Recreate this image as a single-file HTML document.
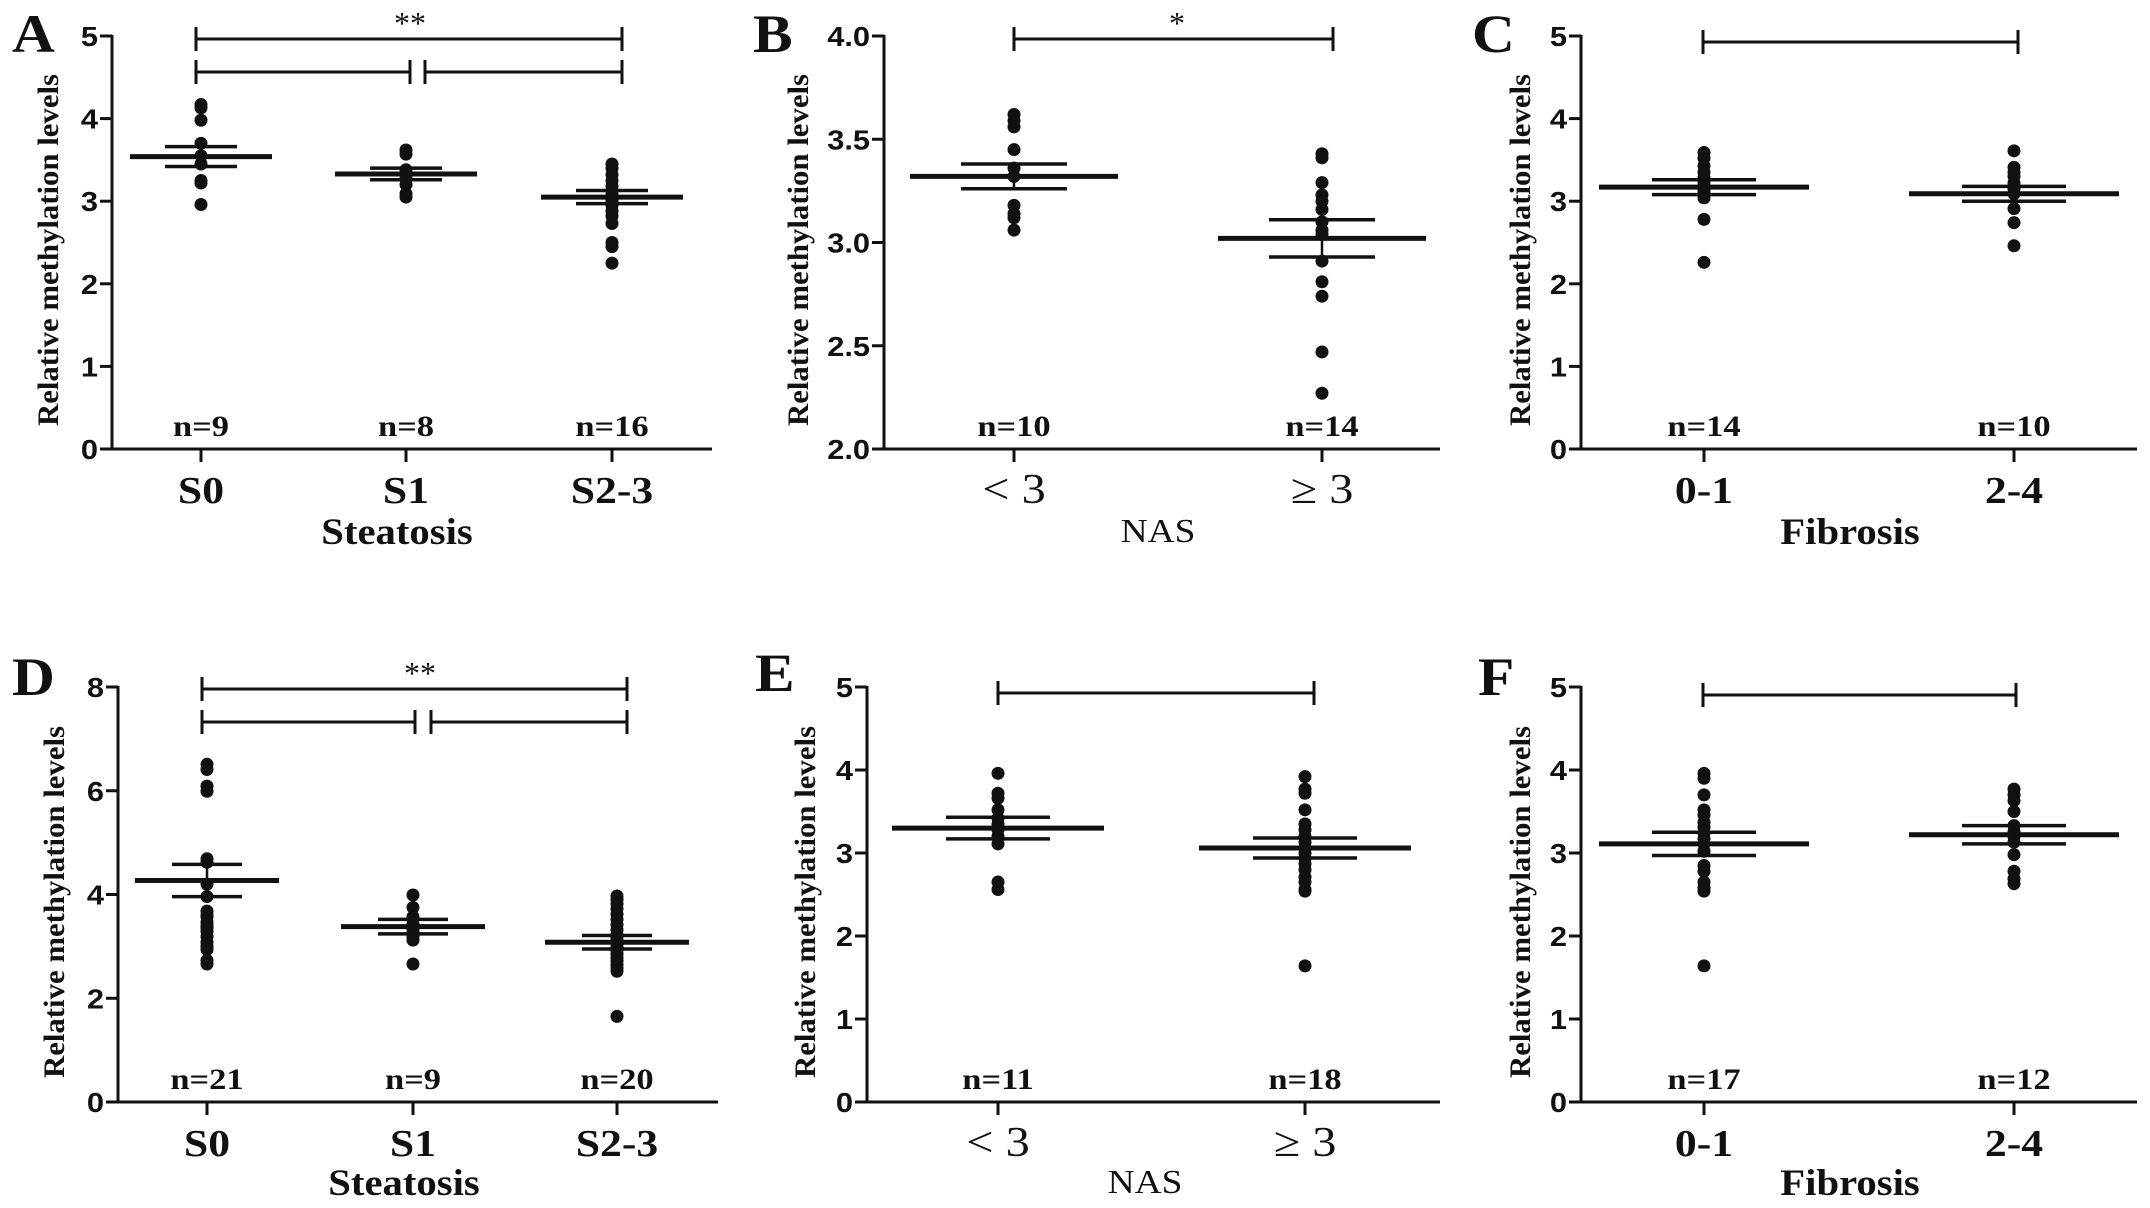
<!DOCTYPE html>
<html><head><meta charset="utf-8">
<style>
html,body{margin:0;padding:0;background:#fff;}
svg{display:block;}
.tick{font-family:"Liberation Sans",Arial,sans-serif;font-weight:bold;fill:#111;}
.ser{font-family:"Liberation Serif","Times New Roman",serif;fill:#111;}
</style></head>
<body>
<svg id="fig" width="2150" height="1208" viewBox="0 0 2150 1208" xmlns="http://www.w3.org/2000/svg"></svg>
<script>
// ---- Panel A data ----
const aCats = ["S0","S1","S2-3"];
const aN = ["n=9","n=8","n=16"];
const aS0 = [4.17,4.13,3.98,3.7,3.55,3.45,3.25,3.22,2.96];
const aS1 = [3.62,3.57,3.38,3.32,3.27,3.2,3.09,3.05];
const aS23 = [3.45,3.40,3.32,3.25,3.18,3.12,3.08,3.03,3.0,2.95,2.88,2.82,2.73,2.5,2.45,2.25];
const aMean = [3.54,3.33,3.05];
const aSem = [0.12,0.07,0.08];
const aTicks = ["0","1","2","3","4","5"];
// ---- Panel B data ----
const bCats = ["< 3","\u2265 3"];
const bN = ["n=10","n=14"];
const bLow = [3.62,3.59,3.56,3.45,3.36,3.32,3.18,3.14,3.12,3.06];
const bHigh = [3.43,3.41,3.29,3.23,3.2,3.16,3.1,3.06,3.04,2.91,2.81,2.74,2.47,2.27];
const bMean = [3.32,3.02];
const bSem = [0.06,0.09];
const bTicks = ["2.0","2.5","3.0","3.5","4.0"];
// ---- Panel C data ----
const cCats = ["0-1","2-4"];
const cN = ["n=14","n=10"];
const cLow = [3.59,3.52,3.43,3.35,3.28,3.24,3.2,3.17,3.13,3.11,3.09,3.04,2.78,2.26];
const cHigh = [3.61,3.41,3.35,3.3,3.22,3.15,3.09,2.91,2.74,2.46];
const cMean = [3.17,3.09];
const cSem = [0.09,0.09];
const cTicks = ["0","1","2","3","4","5"];
// ---- Panel D data ----
const dCats = ["S0","S1","S2-3"];
const dN = ["n=21","n=9","n=20"];
const dS0 = [6.51,6.41,6.09,5.99,4.69,4.62,4.2,3.96,3.68,3.6,3.57,3.47,3.4,3.36,3.29,3.19,3.08,3.0,2.94,2.73,2.66];
const dS1 = [3.99,3.75,3.57,3.43,3.35,3.29,3.19,3.12,2.66];
const dS23 = [3.97,3.9,3.82,3.72,3.62,3.52,3.42,3.32,3.22,3.15,3.08,3.0,2.92,2.85,2.78,2.72,2.65,2.58,2.52,1.65];
const dMean = [4.27,3.38,3.08];
const dSem = [0.31,0.14,0.13];
const dTicks = ["0","2","4","6","8"];
// ---- Panel E data ----
const eCats = ["< 3","\u2265 3"];
const eN = ["n=11","n=18"];
const eLow = [3.96,3.72,3.66,3.52,3.42,3.35,3.28,3.2,3.11,2.65,2.56];
const eHigh = [3.92,3.77,3.72,3.52,3.35,3.28,3.2,3.13,3.06,3.0,2.93,2.87,2.8,2.71,2.65,2.56,2.54,1.64];
const eMean = [3.30,3.06];
const eSem = [0.13,0.12];
const eTicks = ["0","1","2","3","4","5"];
// ---- Panel F data ----
const fCats = ["0-1","2-4"];
const fN = ["n=17","n=12"];
const fLow = [3.96,3.9,3.7,3.52,3.46,3.37,3.31,3.24,3.17,3.11,3.02,2.85,2.78,2.65,2.58,2.54,1.64];
const fHigh = [3.77,3.70,3.63,3.50,3.33,3.26,3.2,3.13,2.98,2.78,2.69,2.63];
const fMean = [3.11,3.22];
const fSem = [0.14,0.11];
const fTicks = ["0","1","2","3","4","5"];

const NS = "http://www.w3.org/2000/svg";
const svg = document.getElementById('fig');
function mk(tag, attrs, parent){
  const e = document.createElementNS(NS, tag);
  for (const k in attrs) e.setAttribute(k, attrs[k]);
  (parent||svg).appendChild(e);
  return e;
}
function line(g,x1,y1,x2,y2,w){ return mk('line',{x1:x1,y1:y1,x2:x2,y2:y2,stroke:'#111','stroke-width':w},g); }
function txt(g,s,x,y,cls,size,anchor,weight){
  const t = mk('text',{x:x,y:y,'class':cls,'font-size':size,'text-anchor':anchor||'middle','font-weight':weight||'bold'},g);
  t.textContent = s; return t;
}
// horizontally stretched text (reference glyphs are wider than tall)
function wtxt(g,s,x,y,cls,size,anchor,weight,sx){
  const t = mk('text',{x:0,y:0,'class':cls,'font-size':size,'text-anchor':anchor||'middle','font-weight':weight||'bold',
    transform:'translate('+x+','+y+') scale('+sx+',1)'},g);
  t.textContent = s; return t;
}

function panel(p){
  const g = mk('g',{});
  
  
  const ymin = p.ymin, ymax = p.ymax;
  const yS = v => p.y0 + (v - ymin) / (ymax - ymin) * (p.yTop - p.y0);
  const L = wtxt(g, p.letter, p.lx, p.ly, 'ser', 54, 'start', 'bold', 1.1);
  
  
  const ya = line(g, p.ax, p.yTop-1, p.ax, p.y0+1.5, 3);
  
  
  const xa = line(g, p.ax-12, p.y0, p.xEnd, p.y0, 3);
  
  
  const nT = p.ticks.length;
  p.ticks.forEach((lab, i) => {
    const v = ymin + (ymax - ymin) * i / (nT - 1);
    const y = yS(v);
    line(g, p.ax-12, y, p.ax, y, 3);
    const t = wtxt(g, lab, p.ax-14, y+10, 'tick', 28, 'end', 'bold', 1.1);
    
    
  });
  const yt = mk('text',{x:0,y:0,'class':'ser','font-size':30,'font-weight':'bold','text-anchor':'middle',
    transform:'translate('+p.ytx+','+p.tyc+') rotate(-90)', textLength:352, lengthAdjust:'spacingAndGlyphs'}, g);
  yt.textContent = 'Relative methylation levels';
  
  
  p.cats.forEach((c, i) => {
    const x = p.cx[i];
    line(g, x, p.y0, x, p.y0+13, 3);
    const cl = wtxt(g, c, x, p.y0+54, 'ser', p.catSize, 'middle', p.catWeight, 1.15);
    
    
    const nl = wtxt(g, p.n[i], x, p.y0-13, 'ser', 30, 'middle', 'bold', 1.15);
    
    
    p.series[i].forEach(v => {
      const d = mk('circle',{cx:x, cy:yS(v), r:6.5, fill:'#111'}, g);
      
      
    });
    const m = line(g, x-p.mh, yS(p.mean[i]), x+p.mh, yS(p.mean[i]), 5);
    
    
    const s1 = line(g, x-p.sh, yS(p.mean[i]+p.sem[i]), x+p.sh, yS(p.mean[i]+p.sem[i]), 3.5);
    
    
    const s2 = line(g, x-p.sh, yS(p.mean[i]-p.sem[i]), x+p.sh, yS(p.mean[i]-p.sem[i]), 3.5);
    
    
    line(g, x, yS(p.mean[i]+p.sem[i]), x, yS(p.mean[i]-p.sem[i]), 2.5);
  });
  const xt = wtxt(g, p.title, p.tx, p.ty, 'ser', p.titleSize, 'middle', p.catWeight, 1.1);
  
  
  p.brackets.forEach(b => {
    const bg = mk('g',{}, g);
    
    
    line(bg, b[0], b[2], b[1], b[2], 3);
    line(bg, b[0], b[2]-12, b[0], b[2]+12, 3);
    line(bg, b[1], b[2]-12, b[1], b[2]+12, 3);
  });
  if (p.star) {
    const st = txt(g, p.star[0], p.star[1], p.star[2], 'ser', 32, 'middle', 'normal');
    
    
  }
}

panel({letter:'A', lx:12, ly:52, ax:112, xEnd:712, yTop:36, y0:449, ymin:0, ymax:5, ticks:aTicks,
  ytx:58, tyc:250, cats:aCats, n:aN, cx:[201,406,612], series:[aS0,aS1,aS23], mean:aMean, sem:aSem,
  mh:71, sh:36, catSize:38, catWeight:'bold', title:'Steatosis', tx:397, ty:544, titleSize:37,
  brackets:[[196,622,39],[196,410,72],[425,622,72]], star:['**',410,34]});
panel({letter:'B', lx:753, ly:52, ax:884, xEnd:1440, yTop:36, y0:449, ymin:2, ymax:4, ticks:bTicks,
  ytx:808, tyc:250, cats:bCats, n:bN, cx:[1014,1322], series:[bLow,bHigh], mean:bMean, sem:bSem,
  mh:104, sh:53, catSize:42, catWeight:'normal', title:'NAS', tx:1158, ty:542, titleSize:34,
  brackets:[[1014,1333,39]], star:['*',1177,34]});
panel({letter:'C', lx:1472, ly:52, ax:1581, xEnd:2137, yTop:36, y0:449, ymin:0, ymax:5, ticks:cTicks,
  ytx:1530, tyc:250, cats:cCats, n:cN, cx:[1704,2014], series:[cLow,cHigh], mean:cMean, sem:cSem,
  mh:105, sh:52, catSize:38, catWeight:'bold', title:'Fibrosis', tx:1850, ty:544, titleSize:37,
  brackets:[[1703,2018,42]], star:null});
panel({letter:'D', lx:12, ly:695, ax:118, xEnd:718, yTop:687, y0:1102, ymin:0, ymax:8, ticks:dTicks,
  ytx:64, tyc:902, cats:dCats, n:dN, cx:[207,413,617], series:[dS0,dS1,dS23], mean:dMean, sem:dSem,
  mh:72, sh:35, catSize:38, catWeight:'bold', title:'Steatosis', tx:404, ty:1195, titleSize:37,
  brackets:[[202,627,689],[202,415,722],[431,627,722]], star:['**',420,684]});
panel({letter:'E', lx:755, ly:691, ax:867, xEnd:1440, yTop:687, y0:1102, ymin:0, ymax:5, ticks:eTicks,
  ytx:815, tyc:902, cats:eCats, n:eN, cx:[998,1305], series:[eLow,eHigh], mean:eMean, sem:eSem,
  mh:106, sh:52, catSize:42, catWeight:'normal', title:'NAS', tx:1145, ty:1193, titleSize:34,
  brackets:[[998,1314,693]], star:null});
panel({letter:'F', lx:1478, ly:695, ax:1581, xEnd:2137, yTop:687, y0:1102, ymin:0, ymax:5, ticks:fTicks,
  ytx:1530, tyc:902, cats:fCats, n:fN, cx:[1704,2014], series:[fLow,fHigh], mean:fMean, sem:fSem,
  mh:105, sh:52, catSize:38, catWeight:'bold', title:'Fibrosis', tx:1850, ty:1195, titleSize:37,
  brackets:[[1703,2016,695]], star:null});
</script>
</body></html>
